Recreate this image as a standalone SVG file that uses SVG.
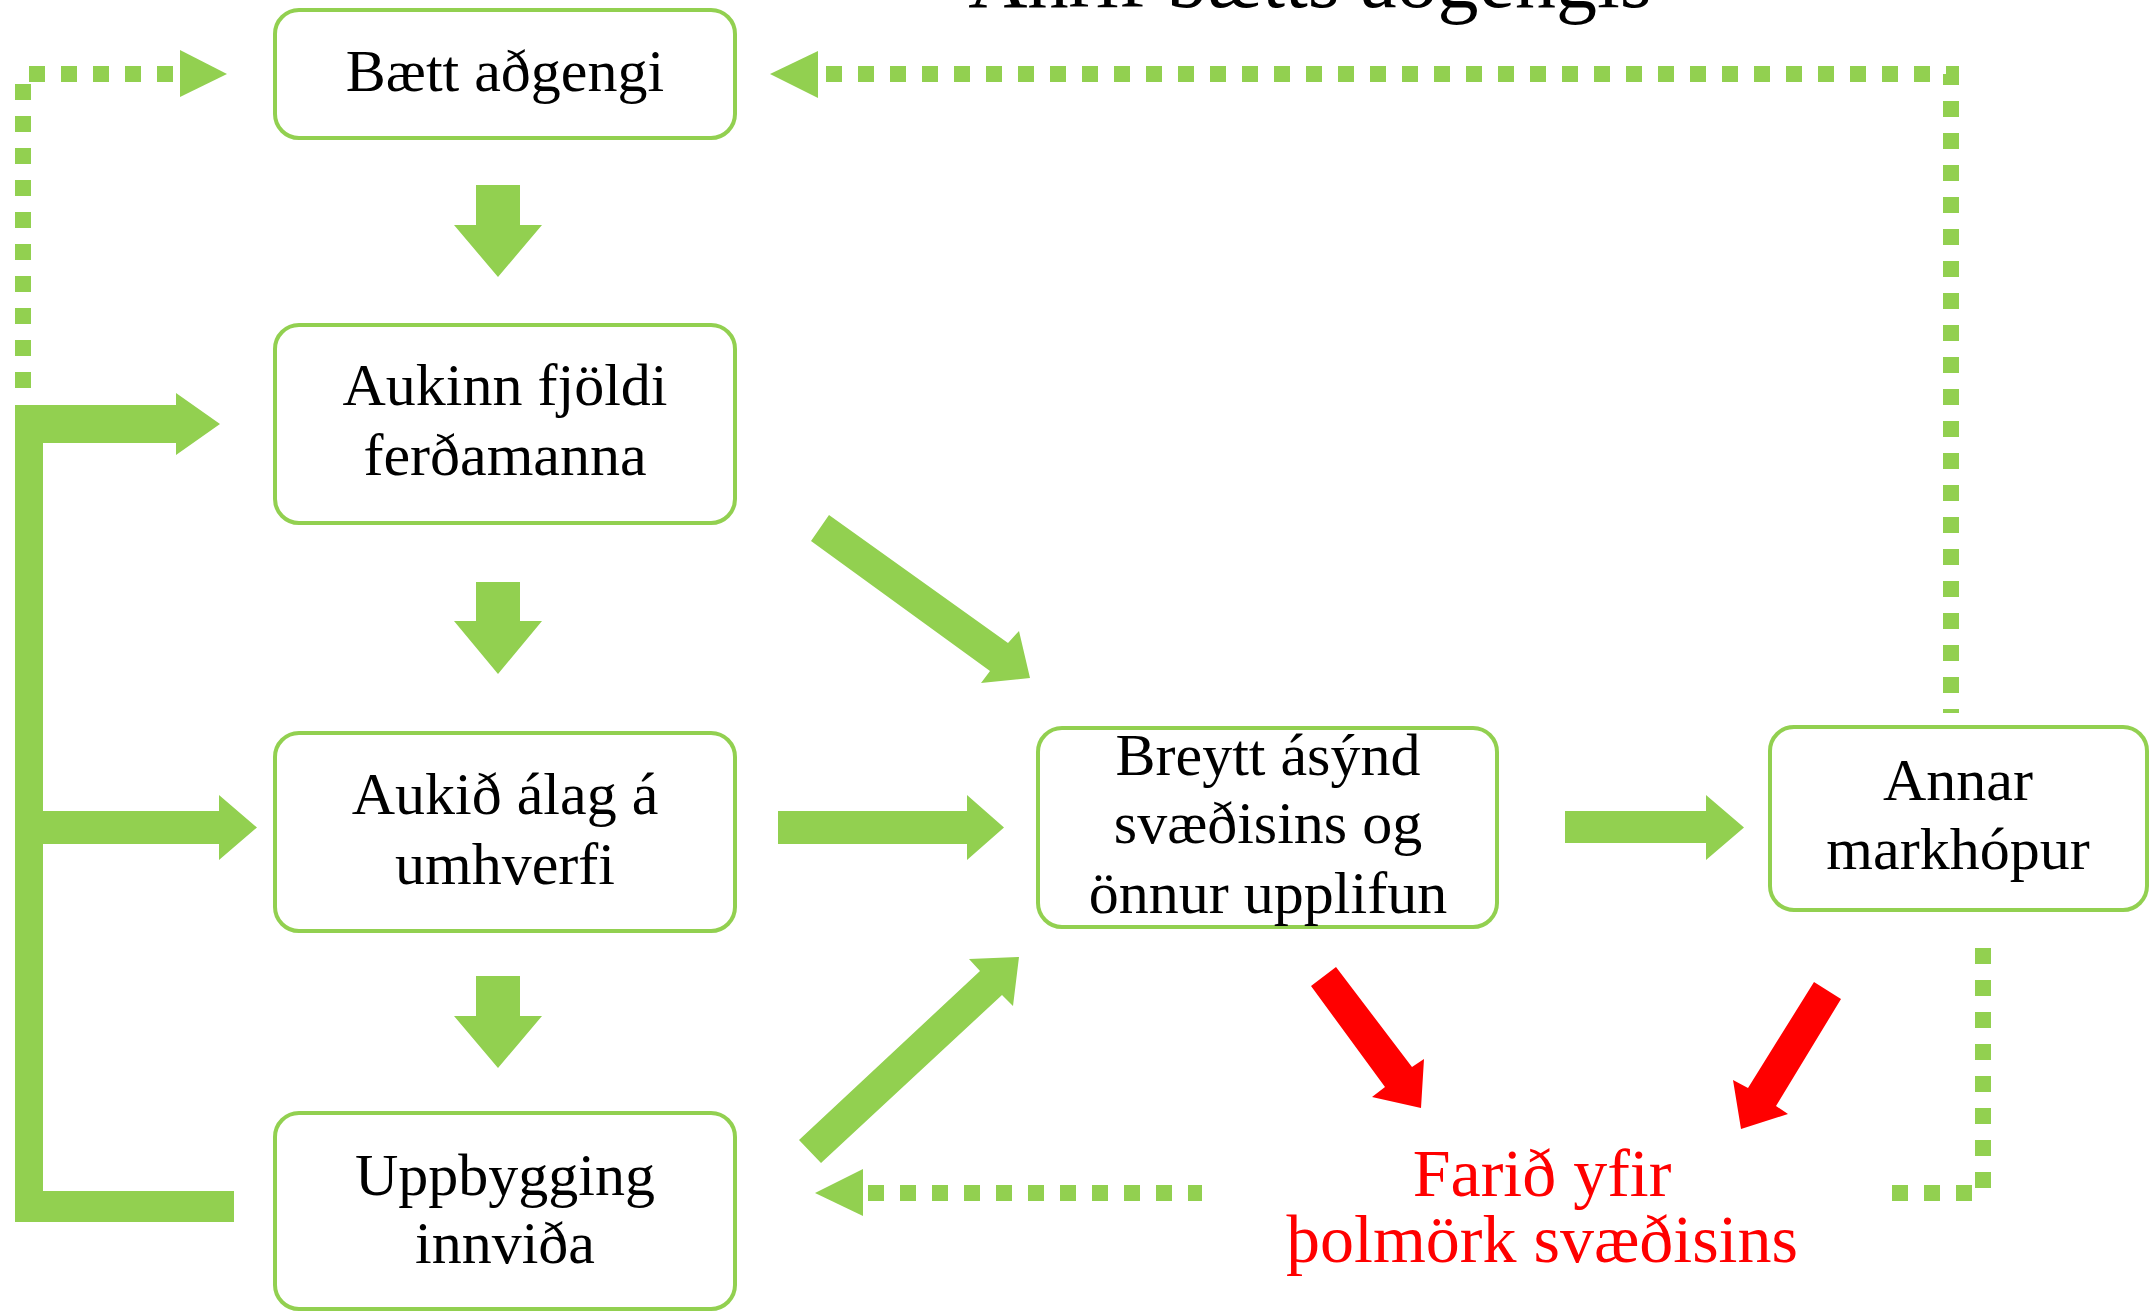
<svg xmlns="http://www.w3.org/2000/svg" width="2151" height="1312" viewBox="0 0 2151 1312">
<style>
.box{fill:#fff;stroke:#92D050;stroke-width:4}
.t{font-family:"Liberation Serif",serif;font-size:60px;fill:#000;text-anchor:middle}
.red{font-family:"Liberation Serif",serif;font-size:68px;fill:#FF0000;text-anchor:middle}
.title{font-family:"Liberation Serif",serif;font-size:82px;fill:#000;text-anchor:middle}
.g{fill:#92D050}
.r{fill:#FF0000}
.dot{fill:none;stroke:#92D050;stroke-width:16;stroke-dasharray:16 16}
</style>
<rect width="2151" height="1312" fill="#fff"/>
<text class="title" x="1310" y="7">Áhrif bætts aðgengis</text>
<g id="connectors">
  <!-- dotted feedback lines -->
  <path class="dot" d="M23 388 V74 H176"/>
  <polygon class="g" points="180,50 227,74 180,97"/>
  <path class="dot" d="M826 74 H1951 V713"/>
  <polygon class="g" points="818,51 770,74 818,98"/>
  <path class="dot" d="M868 1193 H1202"/>
  <polygon class="g" points="863,1169 815,1193 863,1216"/>
  <path class="dot" d="M1892 1193 H1983 V946"/>
  <!-- down arrows -->
  <polygon class="g" points="476,185 520,185 520,225 542,225 498,277 454,225 476,225"/>
  <polygon class="g" points="476,582 520,582 520,621 542,621 498,674 454,621 476,621"/>
  <polygon class="g" points="476,976 520,976 520,1016 542,1016 498,1068 454,1016 476,1016"/>
  <!-- right arrows -->
  <polygon class="g" points="778,811 967,811 967,795 1004,827.5 967,860 967,844 778,844"/>
  <polygon class="g" points="1565,811 1706,811 1706,795 1744,827.5 1706,860 1706,843 1565,843"/>
  <!-- diagonal arrows -->
  <polygon class="g" points="829,515 1008,643 1019,631 1030,678 981,683 990,671 811,541"/>
  <polygon class="g" points="799,1140 980,971 969,959 1019,957 1013,1006 1002,995 821,1163"/>
  <!-- red arrows -->
  <polygon class="r" points="1336,967 1412,1067 1424,1059 1421,1108 1372,1097 1385,1087 1311,986"/>
  <polygon class="r" points="1814,982 1748,1088 1733,1080 1741,1129 1788,1114 1776,1106 1841,999"/>
  <!-- left bracket -->
  <rect class="g" x="15" y="405" width="28" height="817"/>
  <rect class="g" x="15" y="1191" width="219" height="31"/>
  <polygon class="g" points="15,405 176,405 176,393 220,424 176,455 176,443 15,443"/>
  <polygon class="g" points="43,811 219,811 219,795 257,827.5 219,860 219,844 43,844"/>
</g>
<g id="n1"><rect class="box" x="275" y="10" width="460" height="128" rx="24"/><text class="t" x="505" y="91">Bætt aðgengi</text></g>
<g id="n2"><rect class="box" x="275" y="325" width="460" height="198" rx="24"/><text class="t" x="505" y="405">Aukinn fjöldi</text><text class="t" x="505" y="475">ferðamanna</text></g>
<g id="n3"><rect class="box" x="275" y="733" width="460" height="198" rx="24"/><text class="t" x="505" y="814">Aukið álag á</text><text class="t" x="505" y="884">umhverfi</text></g>
<g id="n4"><rect class="box" x="275" y="1113" width="460" height="196" rx="24"/><text class="t" x="505" y="1195">Uppbygging</text><text class="t" x="505" y="1263">innviða</text></g>
<g id="n5"><rect class="box" x="1038" y="728" width="459" height="199" rx="24"/><text class="t" x="1268" y="775">Breytt ásýnd</text><text class="t" x="1268" y="843">svæðisins og</text><text class="t" x="1268" y="913">önnur upplifun</text></g>
<g id="n6"><rect class="box" x="1770" y="727" width="377" height="183" rx="24"/><text class="t" x="1958" y="800">Annar</text><text class="t" x="1958" y="869">markhópur</text></g>
<g id="n7"><text class="red" x="1542" y="1196">Farið yfir</text><text class="red" x="1542" y="1262">þolmörk svæðisins</text></g>
</svg>
